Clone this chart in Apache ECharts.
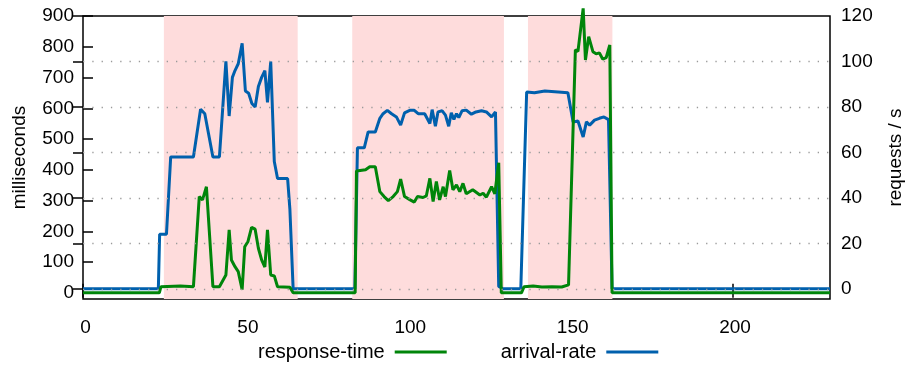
<!DOCTYPE html>
<html>
<head>
<meta charset="utf-8">
<script src="https://cdn.jsdelivr.net/npm/echarts@6/dist/echarts.min.js"></script>
<style>
  html, body { margin: 0; padding: 0; background: #fff; }
  #chart { width: 905px; height: 365px; }
</style>
</head>
<body>
<div id="chart"></div>
<script>
// ---- data ----
const xTicks = [0, 50, 100, 150, 200];
const msTicks = [0, 100, 200, 300, 400, 500, 600, 700, 800, 900];
const rpsTicks = [0, 20, 40, 60, 80, 100, 120];
const rpsGridValues = [0, 20, 40, 60, 80, 100];

// shaded intervals [start, end] on x
const shadedRegions = [[24.9, 66.1], [82.9, 129.6], [137.0, 163.0]];

// response-time (ms) as [x, value]
const responseTime = [
  [0, 0], [23.5, 0], [24, 20], [30, 22], [34, 20], [35.8, 313], [36.8, 302], [38, 345],
  [40, 20], [42, 20], [44, 58], [45, 205], [45.7, 107], [46.8, 85], [47.8, 69], [49, 10],
  [49.8, 150], [50.8, 167], [51.9, 213], [53, 207], [54, 145], [55, 107], [56, 84],
  [56.8, 205], [57.8, 58], [58.9, 55], [59.9, 20], [63.7, 18], [64.7, 0],
  [83.8, 0], [84.2, 396], [87, 400], [88.3, 410], [90, 410], [91.4, 329], [92.7, 313],
  [94, 300], [95.5, 313], [96.8, 329], [97.8, 370], [99, 313], [100.6, 303], [102, 295],
  [103, 313], [104.7, 310], [105.7, 315], [106.8, 372], [107.8, 297], [108.8, 362],
  [109.8, 302], [110.9, 345], [111.6, 313], [112.9, 398], [113.9, 335], [115, 351],
  [116, 329], [117, 356], [118, 322], [120, 335], [122.2, 318], [123.2, 324], [124.2, 311],
  [125.8, 345], [126.8, 322], [128, 423], [128.8, 0],
  [135, 0], [135.8, 20], [138.6, 22], [139.2, 26], [141.3, 19], [144.4, 20], [147.4, 19],
  [149.5, 26], [151.6, 790], [152.4, 785], [154, 925], [154.7, 757], [155.7, 833],
  [157, 784], [158, 777], [159, 780], [160, 760], [161.1, 765], [162.2, 806], [162.9, 0],
  [230, 0]
];

// arrival-rate (requests / s) as [x, value]
const arrivalRate = [
  [0, 0], [23.2, 0], [23.6, 24], [25.7, 24], [27, 58], [34, 58], [36.2, 79], [37.5, 77],
  [40, 58], [42, 58], [44, 100], [44.4, 100], [45, 76], [46, 93], [46.8, 96], [47.8, 99],
  [49, 108], [50, 87], [51, 86], [52, 81.5], [53, 80], [54, 89], [55, 93], [56, 96],
  [56.8, 82], [57.8, 100], [58.9, 56], [59.9, 48.5], [63, 48.5], [63.7, 35], [64.7, 0],
  [83.7, 0], [84.5, 62], [86.6, 62], [87.8, 69], [90, 69], [91.4, 75], [92.4, 77],
  [93.7, 78.5], [95, 77], [96.5, 75.6], [97.8, 72], [99, 77.4], [100.6, 78.5], [102, 78.5],
  [103.2, 77], [105.2, 77], [106.8, 72.7], [107.5, 78.8], [108.5, 71.5], [109.3, 77.8],
  [110.6, 78.3], [111.6, 76.4], [112.6, 71.5], [113.4, 77.4], [114.2, 74.5], [115, 77],
  [115.7, 75.3], [116.7, 78.3], [118, 78.6], [119.6, 76.8], [121, 77.8], [122.7, 78.3],
  [124.2, 77.8], [125.8, 75.6], [127, 77.8], [128, 1], [129.3, 0],
  [134.8, 0], [136.6, 86.6], [139, 86.2], [142.2, 87], [146.3, 86.6], [149.3, 86.2],
  [150.9, 73.4], [152.4, 73.8], [154, 66.8], [155, 73.4], [156, 72], [157.5, 74.2],
  [159, 75], [160.4, 75.6], [161.8, 74.4], [162.9, 0], [230, 0]
];

// ---- chart ----
const FONT = 'Liberation Sans, Arial, sans-serif';
const FS = 19;
const GREEN = '#00850a';
const BLUE = '#0060ad';

const chart = echarts.init(document.getElementById('chart'), null, { renderer: 'canvas' });

const option = {
  animation: false,
  textStyle: { fontFamily: FONT, color: '#000' },
  grid: {
    left: 83, right: 75, top: 16, bottom: 66,
    containLabel: false,
    outerBoundsMode: 'none',
    show: true, borderColor: '#000', borderWidth: 1.5, backgroundColor: 'transparent'
  },
  legend: {
    left: 258, top: 342, padding: 0,
    data: ['response-time', 'arrival-rate'],
    align: 'right',
    icon: 'rect',
    itemWidth: 52, itemHeight: 3, itemGap: 54,
    textStyle: { fontFamily: FONT, fontSize: 20, color: '#000', padding: [0, 5, 0, 0] }
  },
  xAxis: [
    {
      type: 'value', min: 0, max: 230, interval: 50, position: 'bottom',
      axisLine: { show: false },
      axisTick: { show: true, inside: true, length: 9, lineStyle: { color: '#000', width: 1.5 }, customValues: xTicks },
      axisLabel: { fontFamily: FONT, fontSize: FS, color: '#000', margin: 19, padding: [0, 0, 0, 5], customValues: xTicks },
      splitLine: { show: false }
    },
    {
      type: 'value', min: 0, max: 230, interval: 50, position: 'top',
      axisLine: { show: false },
      axisTick: { show: true, inside: true, length: 9, lineStyle: { color: '#000', width: 1.5 }, customValues: xTicks },
      axisLabel: { show: false },
      splitLine: { show: false }
    }
  ],
  yAxis: [
    {
      type: 'value', min: -20, max: 900, position: 'left',
      name: 'milliseconds', nameLocation: 'middle', nameGap: 54, nameRotate: 90,
      nameTextStyle: { fontFamily: FONT, fontSize: FS, color: '#000' },
      axisLine: { show: false },
      axisTick: { show: true, inside: true, length: 10, lineStyle: { color: '#000', width: 1.5 }, customValues: msTicks },
      axisLabel: { fontFamily: FONT, fontSize: FS, color: '#000', margin: 9, customValues: msTicks },
      splitLine: { show: false }
    },
    {
      type: 'value', min: -4.5, max: 120, position: 'right',
      name: 'requests / s', nameLocation: 'middle', nameGap: 56, nameRotate: 90,
      nameTextStyle: { fontFamily: FONT, fontSize: FS, color: '#000' },
      axisLine: { show: false },
      axisTick: { show: true, inside: true, length: 10, lineStyle: { color: '#000', width: 1.5 }, customValues: rpsTicks },
      axisLabel: { fontFamily: FONT, fontSize: FS, color: '#000', margin: 11, customValues: rpsTicks },
      splitLine: { show: false }
    }
  ],
  series: [
    {
      name: 'shade', type: 'line', data: [], xAxisIndex: 0, yAxisIndex: 0, z: 0,
      silent: true,
      markArea: {
        silent: true,
        itemStyle: { color: '#fedcdc' },
        data: shadedRegions.map(r => [{ xAxis: r[0] }, { xAxis: r[1] }])
      }
    },
    {
      name: 'grid', type: 'line', data: [], xAxisIndex: 0, yAxisIndex: 1, z: 1,
      silent: true,
      markLine: {
        silent: true, symbol: ['none', 'none'],
        label: { show: false },
        lineStyle: { color: '#9a9a9a', width: 1.3, type: [1.3, 8] },
        data: rpsGridValues.map(v => ({ yAxis: v }))
      }
    },
    {
      name: 'arrival-rate', type: 'line', xAxisIndex: 0, yAxisIndex: 1, z: 3,
      data: arrivalRate, showSymbol: false, symbol: 'none',
      color: BLUE, lineStyle: { color: BLUE, width: 3 }
    },
    {
      name: 'response-time', type: 'line', xAxisIndex: 0, yAxisIndex: 0, z: 4,
      data: responseTime, showSymbol: false, symbol: 'none', clip: false,
      color: GREEN, lineStyle: { color: GREEN, width: 3 }
    }
  ]
};
chart.setOption(option);
</script>
</body>
</html>
